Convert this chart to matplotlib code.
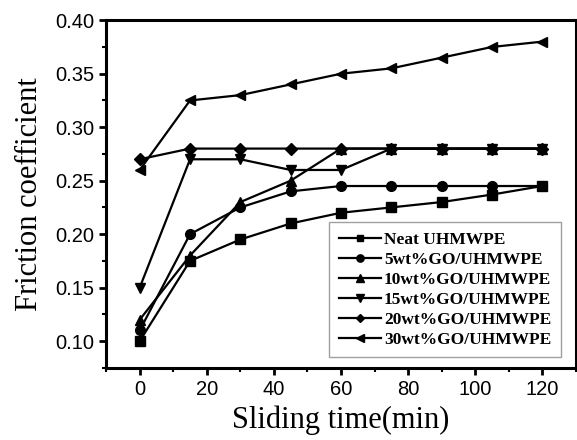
import matplotlib.pyplot as plt
from matplotlib.ticker import MultipleLocator

# sliding time (min)
time = [0, 15, 30, 45, 60, 75, 90, 105, 120]

# friction coefficient
neat = [0.100, 0.175, 0.195, 0.210, 0.220, 0.225, 0.230, 0.237, 0.245]
go5 = [0.110, 0.200, 0.225, 0.240, 0.245, 0.245, 0.245, 0.245, 0.245]
go10 = [0.120, 0.180, 0.230, 0.250, 0.280, 0.280, 0.280, 0.280, 0.280]
go15 = [0.150, 0.270, 0.270, 0.260, 0.260, 0.280, 0.280, 0.280, 0.280]
go20 = [0.270, 0.280, 0.280, 0.280, 0.280, 0.280, 0.280, 0.280, 0.280]
go30 = [0.260, 0.325, 0.330, 0.340, 0.350, 0.355, 0.365, 0.375, 0.380]

labels = ['Neat UHMWPE', '5wt%GO/UHMWPE', '10wt%GO/UHMWPE',
          '15wt%GO/UHMWPE', '20wt%GO/UHMWPE', '30wt%GO/UHMWPE']
markers = ['s', 'o', '^', 'v', 'D', '<']
sizes = [6.5, 7, 7, 7, 6, 7]

fig = plt.figure(figsize=(5.77, 4.4), dpi=100)
ax = fig.add_axes([0.184, 0.164, 0.814, 0.79])

for y, lab, m, s in zip([neat, go5, go10, go15, go20, go30], labels, markers, sizes):
    ax.plot(time, y, color='black', lw=1.6, marker=m, ms=s, label=lab)

ax.set_xlim(-10, 130)
ax.set_ylim(0.075, 0.40)
ax.xaxis.set_major_locator(MultipleLocator(20))
ax.xaxis.set_minor_locator(MultipleLocator(10))
ax.yaxis.set_major_locator(MultipleLocator(0.05))
ax.yaxis.set_minor_locator(MultipleLocator(0.025))
ax.yaxis.set_major_formatter(plt.FormatStrFormatter('%.2f'))

for sp in ax.spines.values():
    sp.set_linewidth(2.2)
ax.tick_params(which='major', direction='out', length=5, width=2,
               labelsize=14.5, top=False, right=False)
ax.tick_params(which='minor', direction='out', length=3, width=1.5,
               top=False, right=False)
for t in ax.get_xticklabels() + ax.get_yticklabels():
    t.set_fontfamily('Liberation Sans')

ax.set_xlabel('Sliding time(min)', fontsize=22, family='Liberation Serif', labelpad=5)
ax.set_ylabel('Friction coefficient', fontsize=22, family='Liberation Serif', labelpad=8)

leg = ax.legend(loc='lower right', bbox_to_anchor=(0.968, 0.03),
                prop={'family': 'Liberation Serif', 'weight': 'bold', 'size': 12.5},
                frameon=True, fancybox=False, handlelength=2.4,
                labelspacing=0.22, handletextpad=0.2, borderpad=0.55,
                borderaxespad=0.0, markerscale=0.75)
leg.get_frame().set_edgecolor('#888888')
leg.get_frame().set_linewidth(1.0)

plt.savefig('out.png', dpi=100)
